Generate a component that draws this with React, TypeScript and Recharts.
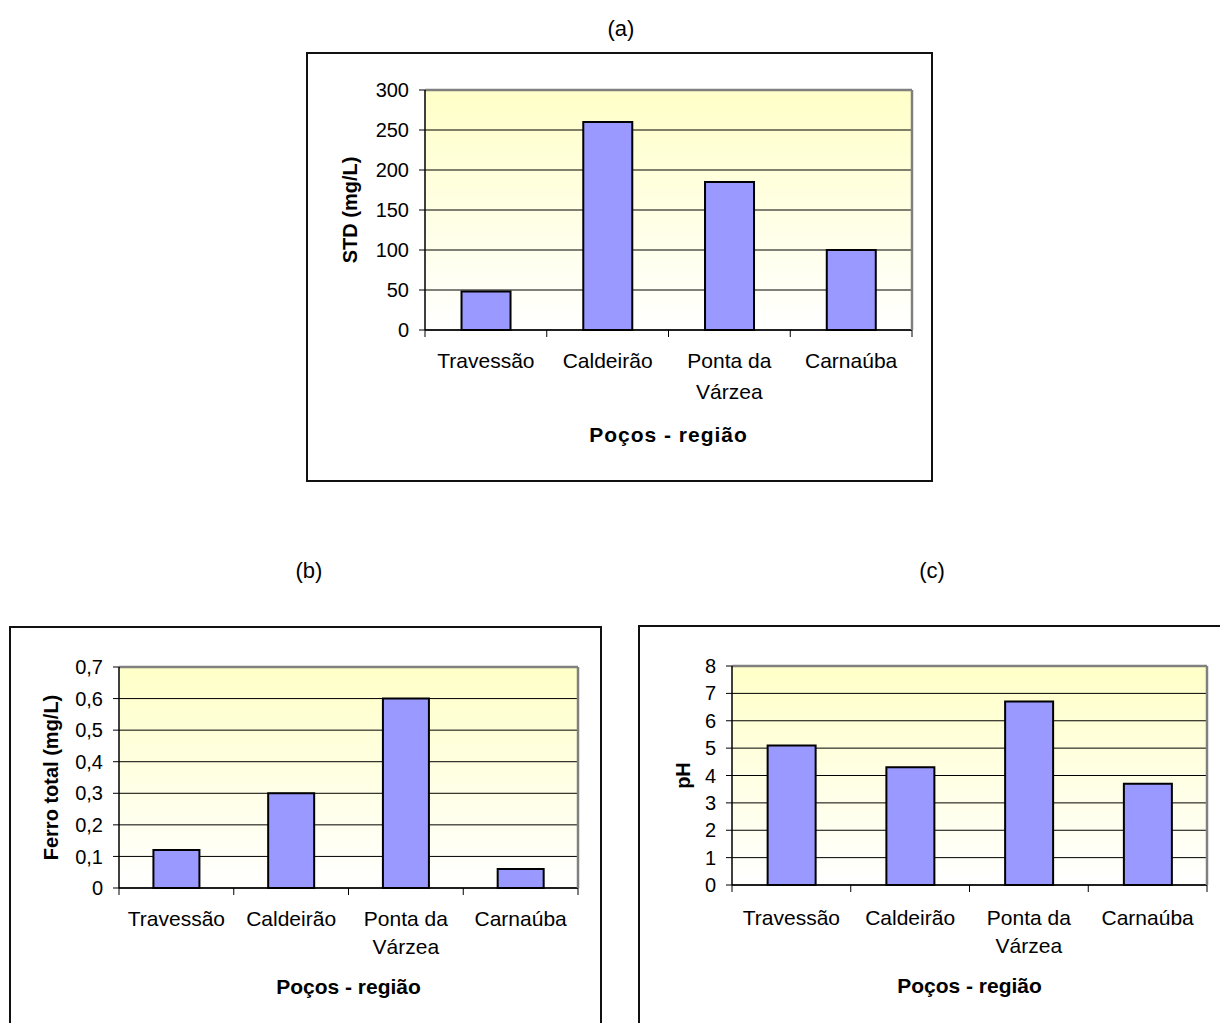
import React from "react";
import { BarChart, Bar, XAxis, YAxis, CartesianGrid, Label } from "recharts";

// ---------- data ----------
const categories = ["Travessão", "Caldeirão", "Ponta da\nVárzea", "Carnaúba"];

const stdValues = [48, 260, 185, 100];
const ferroValues = [0.12, 0.3, 0.6, 0.06];
const phValues = [5.1, 4.3, 6.7, 3.7];

const stdTicks = [0, 50, 100, 150, 200, 250, 300];
const stdTickLabels = ["0", "50", "100", "150", "200", "250", "300"];
const ferroTicks = [0, 0.1, 0.2, 0.3, 0.4, 0.5, 0.6, 0.7];
const ferroTickLabels = ["0", "0,1", "0,2", "0,3", "0,4", "0,5", "0,6", "0,7"];
const phTicks = [0, 1, 2, 3, 4, 5, 6, 7, 8];
const phTickLabels = ["0", "1", "2", "3", "4", "5", "6", "7", "8"];

const panelTitles = ["(a)", "(b)", "(c)"];
const xTitle = "Poços - região";
const yTitles = ["STD (mg/L)", "Ferro total (mg/L)", "pH"];

const FONT = "'Liberation Sans', Arial, Helvetica, sans-serif";

type Cfg = {
  values: number[];
  ticks: number[];
  tickLabels: string[];
  yTitle: string;
  left: number;
  top: number;
  width: number;
  height: number;
  frame: { left: number; top: number; width: number; height: number };
  mTop: number;
  mRight: number;
  yAxisW: number;
  plotH: number;
  yLabelX: number;
  catOffset: number;
  catLine: number;
  titleOffset: number;
  titleSpacing: number;
};

const Panel = ({ cfg }: { cfg: Cfg }) => {
  const data = categories.map((name, i) => ({ name, value: cfg.values[i] }));
  const max = cfg.ticks[cfg.ticks.length - 1];
  const plotW = cfg.width - cfg.yAxisW - cfg.mRight;
  const xAxisH = cfg.height - cfg.mTop - cfg.plotH;
  const axisY = cfg.mTop + cfg.plotH;
  const n = categories.length;
  const half = plotW / n / 2;

  const CatTick = (props: any) => {
    const { x, index } = props;
    const lines = String(props.payload.value).split("\n");
    return (
      <g>
        <line x1={x - half} x2={x - half} y1={axisY} y2={axisY + 7} stroke="#000" strokeWidth={1} />
        {index === n - 1 && (
          <line x1={x + half} x2={x + half} y1={axisY} y2={axisY + 7} stroke="#000" strokeWidth={1} />
        )}
        <text
          x={x}
          y={axisY + cfg.catOffset}
          textAnchor="middle"
          fontSize={21}
          fontFamily={FONT}
          fill="#000"
        >
          {lines.map((l, i) => (
            <tspan key={i} x={x} dy={i === 0 ? 0 : cfg.catLine}>
              {l}
            </tspan>
          ))}
        </text>
      </g>
    );
  };

  const yMid = cfg.mTop + cfg.plotH / 2;

  return (
    <>
      <div
        style={{
          position: "absolute",
          left: cfg.frame.left,
          top: cfg.frame.top,
          width: cfg.frame.width,
          height: cfg.frame.height,
          border: "2px solid #111",
          boxSizing: "border-box",
        }}
      />
      <div style={{ position: "absolute", left: cfg.left, top: cfg.top }}>
        <BarChart
          width={cfg.width}
          height={cfg.height}
          data={data}
          margin={{ top: cfg.mTop - 1, right: cfg.mRight - 1, bottom: 0, left: 0 }}
          barCategoryGap="30%"
        >
          <CartesianGrid
            vertical={false}
            stroke="#000"
            strokeWidth={1}
            fill="url(#plotGrad)"
            fillOpacity={1}
            horizontalValues={cfg.ticks.slice(0, -1)}
          />
          <XAxis
            dataKey="name"
            height={xAxisH}
            interval={0}
            tickLine={false}
            tickSize={0}
            tickMargin={0}
            axisLine={{ stroke: "#000", strokeWidth: 1.5 }}
            tick={<CatTick />}
          >
            <Label
              content={() => (
                <text
                  x={cfg.yAxisW + plotW / 2}
                  y={axisY + cfg.titleOffset}
                  textAnchor="middle"
                  fontSize={21}
                  fontWeight="bold"
                  fontFamily={FONT}
                  letterSpacing={cfg.titleSpacing}
                  fill="#000"
                >
                  {xTitle}
                </text>
              )}
            />
          </XAxis>
          <XAxis
            xAxisId="top"
            orientation="top"
            dataKey="name"
            height={1}
            tick={false}
            tickLine={false}
            axisLine={{ stroke: "#808080", strokeWidth: 2.5 }}
          />
          <YAxis
            type="number"
            domain={[0, max]}
            ticks={cfg.ticks}
            interval={0}
            width={cfg.yAxisW}
            tickSize={6}
            tickMargin={10}
            tickLine={{ stroke: "#000" }}
            axisLine={{ stroke: "#000", strokeWidth: 1.5 }}
            tick={{ fontSize: 20, fill: "#000", fontFamily: FONT }}
            tickFormatter={(v: number) => cfg.tickLabels[cfg.ticks.indexOf(v)] ?? String(v)}
          >
            <Label
              content={() => (
                <text
                  x={cfg.yLabelX}
                  y={yMid}
                  transform={`rotate(-90 ${cfg.yLabelX} ${yMid})`}
                  textAnchor="middle"
                  fontSize={20}
                  fontWeight="bold"
                  fontFamily={FONT}
                  fill="#000"
                >
                  {cfg.yTitle}
                </text>
              )}
            />
          </YAxis>
          <YAxis
            yAxisId="right"
            orientation="right"
            type="number"
            domain={[0, max]}
            width={1}
            tick={false}
            tickLine={false}
            axisLine={{ stroke: "#808080", strokeWidth: 2.5 }}
          />
          <Bar
            dataKey="value"
            fill="#9999FF"
            stroke="#000"
            strokeWidth={2}
            isAnimationActive={false}
          />
        </BarChart>
      </div>
    </>
  );
};

const cfgA: Cfg = {
  values: stdValues,
  ticks: stdTicks,
  tickLabels: stdTickLabels,
  yTitle: yTitles[0],
  left: 306,
  top: 52,
  width: 626,
  height: 429,
  frame: { left: 306, top: 52, width: 627, height: 430 },
  mTop: 38,
  mRight: 20,
  yAxisW: 119,
  plotH: 240,
  yLabelX: 51,
  catOffset: 38,
  catLine: 31,
  titleOffset: 112,
  titleSpacing: 1,
};

const cfgB: Cfg = {
  values: ferroValues,
  ticks: ferroTicks,
  tickLabels: ferroTickLabels,
  yTitle: yTitles[1],
  left: 10,
  top: 626,
  width: 591,
  height: 410,
  frame: { left: 9, top: 626, width: 593, height: 420 },
  mTop: 41,
  mRight: 23,
  yAxisW: 109,
  plotH: 221,
  yLabelX: 48,
  catOffset: 38,
  catLine: 28,
  titleOffset: 106,
  titleSpacing: 0,
};

const cfgC: Cfg = {
  values: phValues,
  ticks: phTicks,
  tickLabels: phTickLabels,
  yTitle: yTitles[2],
  left: 638,
  top: 626,
  width: 592,
  height: 410,
  frame: { left: 638, top: 625, width: 600, height: 420 },
  mTop: 40,
  mRight: 23,
  yAxisW: 94,
  plotH: 219,
  yLabelX: 52,
  catOffset: 40,
  catLine: 28,
  titleOffset: 108,
  titleSpacing: 0,
};

export default function App() {
  return (
    <div
      style={{
        position: "absolute",
        left: 0,
        top: 0,
        width: 1220,
        height: 1023,
        overflow: "hidden",
        background: "#fff",
        fontFamily: FONT,
      }}
    >
      <svg
        width={1220}
        height={1023}
        style={{ position: "absolute", left: 0, top: 0, pointerEvents: "none" }}
      >
        <defs>
          <linearGradient id="plotGrad" x1="0" y1="0" x2="0" y2="1">
            <stop offset="0%" stopColor="#FFFFC8" />
            <stop offset="100%" stopColor="#FFFFFF" />
          </linearGradient>
        </defs>
        <text x={621} y={36} textAnchor="middle" fontSize={22} fontFamily={FONT} fill="#000">
          {panelTitles[0]}
        </text>
        <text x={309} y={578} textAnchor="middle" fontSize={22} fontFamily={FONT} fill="#000">
          {panelTitles[1]}
        </text>
        <text x={932} y={578} textAnchor="middle" fontSize={22} fontFamily={FONT} fill="#000">
          {panelTitles[2]}
        </text>
      </svg>
      <Panel cfg={cfgA} />
      <Panel cfg={cfgB} />
      <Panel cfg={cfgC} />
    </div>
  );
}
